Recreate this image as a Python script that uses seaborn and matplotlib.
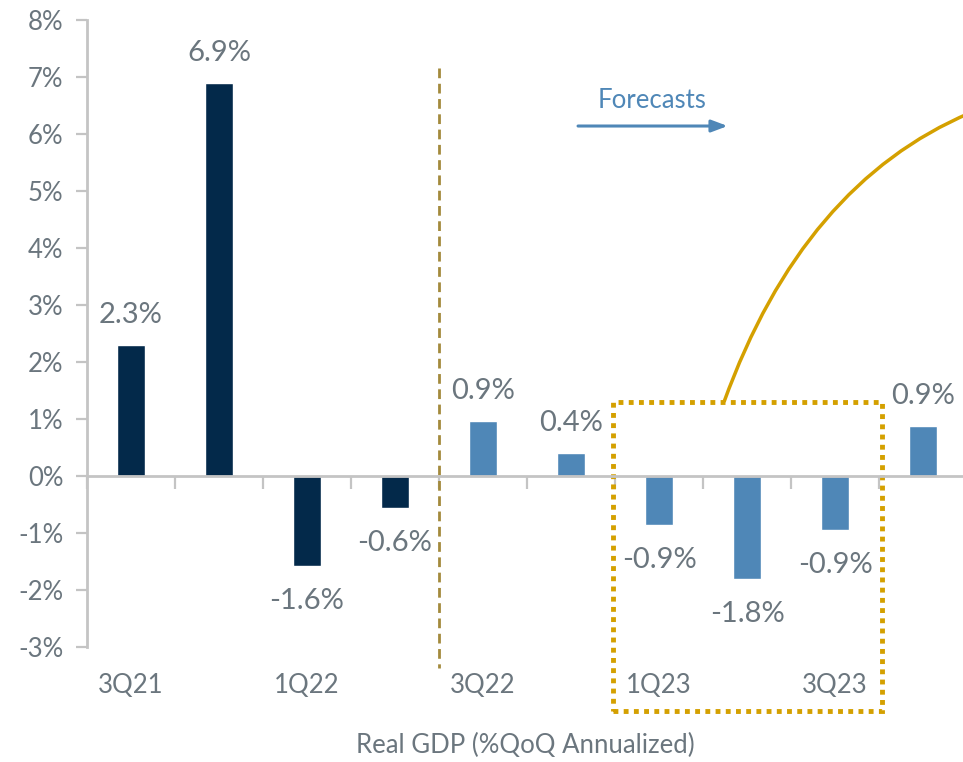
import matplotlib
matplotlib.use("Agg")
import matplotlib.pyplot as plt
from matplotlib.path import Path
from matplotlib.patches import PathPatch, Rectangle
import seaborn as sns
import pandas as pd

quarters = ["3Q21", "4Q21", "1Q22", "2Q22", "3Q22", "4Q22", "1Q23", "2Q23", "3Q23", "4Q23"]
values = [2.30, 6.89, -1.58, -0.56, 0.96, 0.40, -0.86, -1.81, -0.95, 0.88]
labels = ["2.3%", "6.9%", "-1.6%", "-0.6%", "0.9%", "0.4%", "-0.9%", "-1.8%", "-0.9%", "0.9%"]
period = ["Actual"] * 4 + ["Forecast"] * 6
shown_ticks = ["3Q21", "1Q22", "3Q22", "1Q23", "3Q23"]
y_ticks = [-3, -2, -1, 0, 1, 2, 3, 4, 5, 6, 7, 8]

sns.set_theme(style="white")
plt.rcParams["font.family"] = ["Lato", "DejaVu Sans"]

NAVY = "#03294a"
BLUE = "#4f87b7"
GREY_TXT = "#6b767e"
SPINE = "#c4c4c4"
GOLD = "#d4a000"
OLIVE = "#a38a3c"

df = pd.DataFrame({"quarter": quarters, "value": values, "period": period})

fig = plt.figure(figsize=(9.63, 7.62), dpi=100)
ax = fig.add_axes([87 / 963, (762 - 647) / 762, 880 / 963, (647 - 20) / 762])

sns.barplot(data=df, x="quarter", y="value", hue="period", dodge=False,
            palette={"Actual": NAVY, "Forecast": BLUE}, width=0.32,
            legend=False, ax=ax, saturation=1)

ax.set_xlim(-0.5, 9.5)
ax.set_ylim(-3, 8)
ax.set_yticks(y_ticks)
ax.set_yticklabels([f"{t}%" for t in y_ticks], fontsize=18.5, color=GREY_TXT)
ax.tick_params(axis="y", which="major", length=8, width=1.6, color=SPINE, pad=9, left=True)

for s in ["top", "right"]:
    ax.spines[s].set_visible(False)
ax.spines["left"].set_color(SPINE)
ax.spines["left"].set_linewidth(2)
ax.spines["bottom"].set_position(("data", 0))
ax.spines["bottom"].set_color(SPINE)
ax.spines["bottom"].set_linewidth(2)
ax.set_xticks([k + 0.5 for k in range(-1, 10)])
ax.set_xticklabels([])
ax.tick_params(axis="x", which="major", length=9, width=1.6, color=SPINE, bottom=True, direction="out")
ax.set_xlabel("")
ax.set_ylabel("")

for i, q in enumerate(quarters):
    if q in shown_ticks:
        ax.text(i, -3.68, q, ha="center", va="center", fontsize=18.5, color=GREY_TXT, clip_on=False)

for i, (v, lab) in enumerate(zip(values, labels)):
    off = 0.53 if v >= 0 else -0.61
    ax.text(i, v + off, lab, ha="center", va="center", fontsize=21, color=GREY_TXT)

fig.text(525 / 963, 1 - 745 / 762, "Real GDP (%QoQ Annualized)", ha="center", va="center",
         fontsize=18.5, color=GREY_TXT)

ax.plot([3.5, 3.5], [7.16, -3.37], ls=(0, (3.5, 2)), color=OLIVE, lw=2, clip_on=False)

ax.annotate("", xy=(6.78, 6.14), xytext=(5.08, 6.14),
            arrowprops=dict(arrowstyle="-|>,head_length=0.8,head_width=0.3", color=BLUE, lw=2.2,
                            shrinkA=0, shrinkB=0))
ax.text(5.92, 6.58, "Forecasts", ha="center", va="center", fontsize=18.5, color=BLUE)

box = Rectangle((5.477, -4.12), 8.534 - 5.477, 1.30 + 4.12, fill=False, edgecolor=GOLD,
                lw=3.5, ls=(0, (1, 1.1)), clip_on=False)
ax.add_patch(box)

verts = [(6.739, 1.30), (7.636, 5.13), (9.534, 6.37)]
path = Path(verts, [Path.MOVETO, Path.CURVE3, Path.CURVE3])
ax.add_patch(PathPatch(path, fill=False, edgecolor=GOLD, lw=2.5, clip_on=False))

fig.savefig("out.png", dpi=100)
